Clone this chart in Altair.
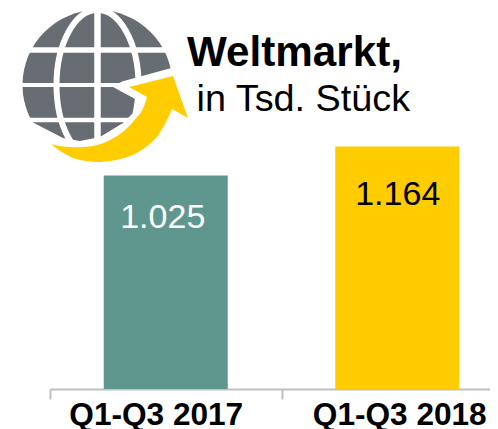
import altair as alt
import pandas as pd

categories = ["Q1-Q3 2017", "Q1-Q3 2018"]
values = [1025, 1164]
labels = ["1.025", "1.164"]
bar_colors = ["#5F968E", "#FFCC00"]
label_colors = ["#FFFFFF", "#000000"]
label_dy = [53, 58]
label_dx = [-3, 0.5]

FONT = "Liberation Sans"

df = pd.DataFrame({"cat": categories, "v": values, "label": labels,
                   "bar": bar_colors, "lc": label_colors})

x = alt.X("cat:N", sort=categories, title=None,
          scale=alt.Scale(range=[0, 463], paddingInner=0, paddingOuter=0),
          axis=alt.Axis(labelAngle=0, labelFont=FONT, labelFontSize=31.6, labelFontWeight="bold",
                        labelColor="#000000", labelPadding=0, domainColor="#BDC0C4", domainWidth=2,
                        tickColor="#BDC0C4", tickWidth=2, tickSize=10, tickBand="extent", labelLimit=300,
                        labelOffset=alt.expr("datum.value == 'Q1-Q3 2017' ? -10 : 2")))
y = alt.Y("v:Q", title=None, axis=None, scale=alt.Scale(domain=[0, 1829], nice=False))

bars = alt.Chart(df).mark_bar(size=124).encode(x=x, y=y, color=alt.Color("bar:N", scale=None))

text_layers = []
for i in range(2):
    text_layers.append(
        alt.Chart(df.iloc[[i]]).mark_text(font=FONT, fontSize=34, baseline="alphabetic",
                                          dy=label_dy[i], dx=label_dx[i])
        .encode(x=alt.X("cat:N", sort=categories), y=alt.Y("v:Q"), text="label:N",
                color=alt.Color("lc:N", scale=None))
    )

one = pd.DataFrame({"a": [0]})

def icon(path, **kw):
    return alt.Chart(one).mark_point(shape=path, size=4, opacity=1, **kw).encode(
        x=alt.value(-50), y=alt.value(-8))

globe = icon("M22.5 85 A75 75 0 1 1 172.5 85 A75 75 0 1 1 22.5 85 Z", filled=True, color="#686D73")
grid = [
    icon("M15 50 L180 50", filled=False, color="#FFFFFF", strokeWidth=5.5),
    icon("M15 85 L180 85", filled=False, color="#FFFFFF", strokeWidth=4),
    icon("M15 120 L180 120", filled=False, color="#FFFFFF", strokeWidth=4.5),
    icon("M97.5 5 L97.5 150", filled=False, color="#FFFFFF", strokeWidth=6.5),
    icon("M56.5 85 A41 75 0 1 1 138.5 85 A41 75 0 1 1 56.5 85 Z", filled=False, color="#FFFFFF", strokeWidth=6),
]
cut = icon("M122 81.5 L175 67 L190 130 L150 172 L60 172 L18 145 L32 122 L63 138 L80 141 L100 137 "
           "L123 123 L133 113 L137 100 L113 87 Z", filled=True, color="#FFFFFF")
arrow = icon("M173 76 L129 87 L147 97 Q143 112 137 117 Q125 133 110 140 Q97 147 83 147 Q65 148 51 144 "
             "Q60 152 73 158 Q85 162 100 162 Q118 161 133 155 Q147 148 157 137 Q166 124 172 109 L188 118 Z",
             filled=True, color="#FFCC00")

def txt(s, px, py, size, bold=False):
    return alt.Chart(one).mark_text(text=s, font=FONT, fontSize=size, align="left", baseline="alphabetic",
                                    fontWeight="bold" if bold else "normal", color="#000000").encode(
        x=alt.value(px - 50), y=alt.value(py - 8))

chart = alt.layer(
    bars, *text_layers, globe, *grid, cut, arrow,
    txt("Weltmarkt,", 187, 65.5, 42.2, True), txt("in Tsd. Stück", 196.5, 110.7, 37.8)
).properties(
    width=440, height=381, padding={"left": 42, "top": 0, "right": 0, "bottom": 40},
    autosize=alt.AutoSizeParams(type="none"), background="#FFFFFF"
).configure_view(stroke=None)

chart.save("out.html", embed_options={"renderer": "svg", "actions": False})
